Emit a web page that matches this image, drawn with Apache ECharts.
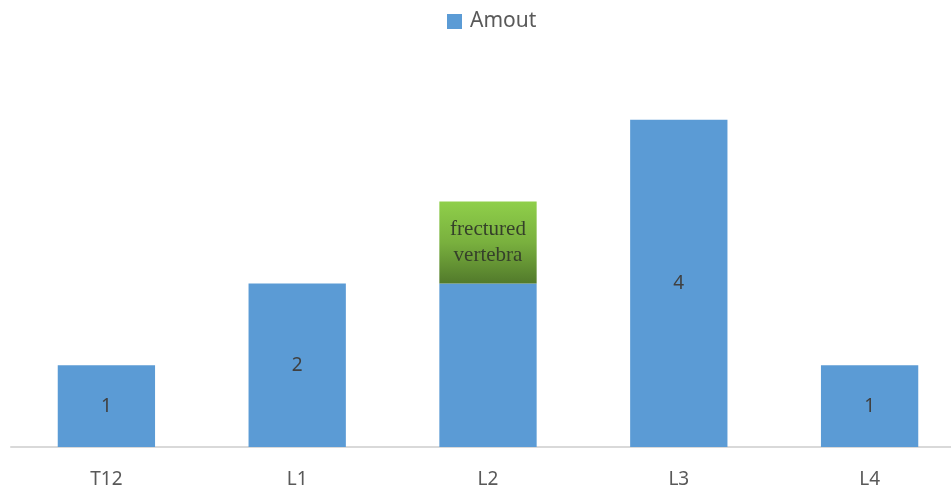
<!DOCTYPE html>
<html>
<head>
<meta charset="utf-8">
<script src="https://cdn.jsdelivr.net/npm/echarts@6/dist/echarts.min.js"></script>
<style>
  html, body { margin: 0; padding: 0; background: #fff; }
  #chart { width: 951px; height: 494px; }
</style>
</head>
<body>
<div id="chart"></div>
<script>
// 数据
const categories = ['T12', 'L1', 'L2', 'L3', 'L4'];
const amount = [1, 2, 2, 4, 1];
// 骨折椎体标记，叠在 L2 上
const fractured = [null, null, 1, null, null];
const fracturedText = 'frectured\nvertebra';
const showValue = [true, true, false, true, true];

const myChart = echarts.init(document.getElementById('chart'));

const options = {
    animation: false,
    legend: {
        data: ['Amout'],
        top: 6,
        left: 442,
        itemWidth: 15,
        itemHeight: 15,
        icon: 'rect',
        textStyle: {
            fontFamily: 'Noto Sans',
            fontSize: 21,
            color: '#595959',
            padding: [0, 0, 0, 3]
        }
    },
    grid: {
        top: 38,
        bottom: 47,
        left: 11,
        width: 954,
        outerBoundsMode: 'none'
    },
    xAxis: {
        type: 'category',
        data: categories,
        axisTick: { show: false },
        axisLine: {
            lineStyle: { color: '#d9d9d9', width: 2 }
        },
        axisLabel: {
            margin: 23,
            fontFamily: 'Noto Sans',
            fontSize: 19,
            color: '#595959'
        }
    },
    yAxis: {
        type: 'value',
        min: 0,
        max: 5,
        show: false,
        splitLine: { show: false }
    },
    series: [
        {
            name: 'Amout',
            type: 'bar',
            stack: 'v',
            barWidth: '51%',
            itemStyle: { color: '#5b9bd5' },
            label: {
                show: true,
                position: 'inside',
                fontFamily: 'Noto Sans',
                fontSize: 19,
                color: '#404040',
                formatter: p => showValue[p.dataIndex] ? p.value : ''
            },
            data: amount
        },
        {
            name: 'fractured',
            type: 'bar',
            stack: 'v',
            barWidth: '51%',
            itemStyle: {
                color: {
                    type: 'linear',
                    x: 0, y: 0, x2: 0, y2: 1,
                    colorStops: [
                        { offset: 0, color: '#8fcf4a' },
                        { offset: 0.5, color: '#79b03e' },
                        { offset: 1, color: '#527a2b' }
                    ]
                }
            },
            label: {
                show: true,
                position: 'inside',
                fontFamily: 'Liberation Serif',
                fontSize: 21,
                lineHeight: 26,
                color: '#35402a',
                formatter: () => fracturedText
            },
            data: fractured
        }
    ]
};

myChart.setOption(options);
</script>
</body>
</html>
